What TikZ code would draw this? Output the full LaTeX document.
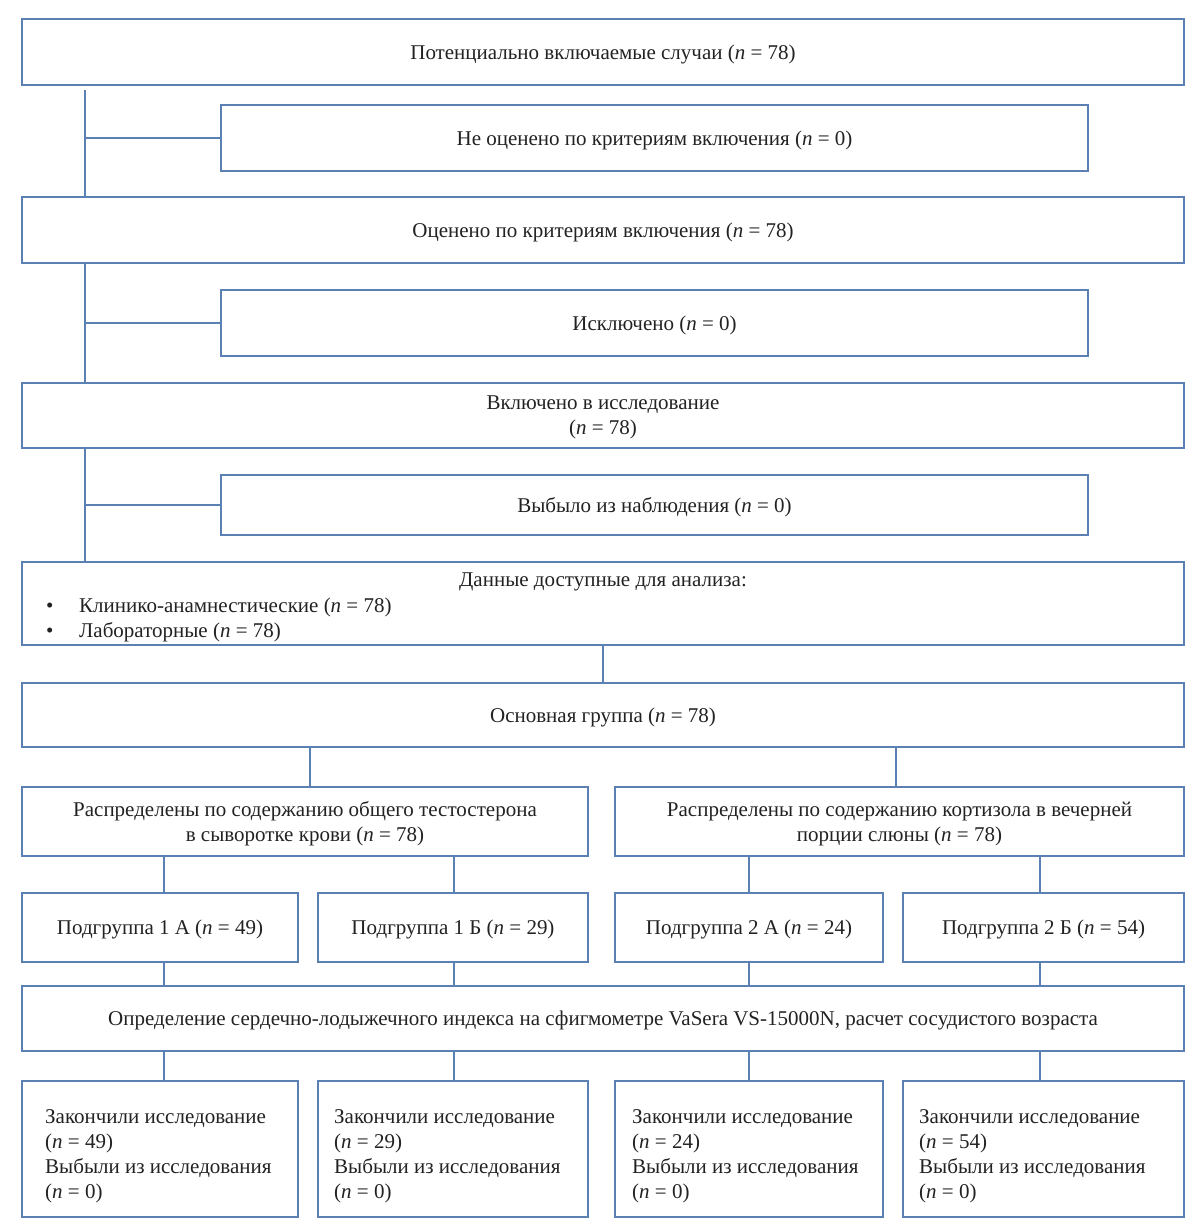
\documentclass[tikz,border=0pt]{standalone}
\usepackage{fontspec}
\setmainfont{Liberation Serif}
\definecolor{bc}{HTML}{5B80B4}
\definecolor{tc}{HTML}{222222}
\begin{document}
\begin{tikzpicture}[x=1pt,y=1pt,
  box/.style={draw=bc, line width=1.8pt, inner sep=0pt, align=center, text=tc, text depth=0pt, font=\fontsize{21}{25}\selectfont},
  txt/.style={inner sep=0pt, text=tc, text depth=0pt, font=\fontsize{21}{25}\selectfont},
  conn/.style={draw=bc, line width=1.8pt}]
\useasboundingbox (0,0) rectangle (1200,-1226);
% boxes
\node[box, minimum width=1162, minimum height=66] (b1) at (603,-52) {Потенциально включаемые случаи (\textit{n} = 78)};
\node[box, minimum width=867, minimum height=66] (b2) at (654.5,-138) {Не оценено по критериям включения (\textit{n} = 0)};
\node[box, minimum width=1162, minimum height=66] (b3) at (603,-230) {Оценено по критериям включения (\textit{n} = 78)};
\node[box, minimum width=867, minimum height=66] (b4) at (654.5,-323) {Исключено (\textit{n} = 0)};
\node[box, minimum width=1162, minimum height=65] (b5) at (603,-415.5) {Включено в исследование\\(\textit{n} = 78)};
\node[box, minimum width=867, minimum height=60] (b6) at (654.5,-505) {Выбыло из наблюдения (\textit{n} = 0)};
\node[box, minimum width=1162, minimum height=83] (b7) at (603,-603.5) {};
\node[txt] (b7t) at (603,-580) {Данные доступные для анализа:};
\node[txt, anchor=base west] (b7d1) at (46,-612) {•};
\node[txt, anchor=base west] (b7d2) at (46,-637) {•};
\node[txt, anchor=base west] (b7l1) at (79,-612) {Клинико-анамнестические (\textit{n} = 78)};
\node[txt, anchor=base west] (b7l2) at (79,-637) {Лабораторные (\textit{n} = 78)};
\node[box, minimum width=1162, minimum height=64] (b8) at (603,-715) {Основная группа (\textit{n} = 78)};
\node[box, minimum width=566, minimum height=69] (b9a) at (305,-821.5) {Распределены по содержанию общего тестостерона\\в сыворотке крови (\textit{n} = 78)};
\node[box, minimum width=569, minimum height=69] (b9b) at (899.5,-821.5) {Распределены по содержанию кортизола в вечерней\\порции слюны (\textit{n} = 78)};
\node[box, minimum width=276, minimum height=69] (s1) at (160,-927.5) {Подгруппа 1 А (\textit{n} = 49)};
\node[box, minimum width=270, minimum height=69] (s2) at (453,-927.5) {Подгруппа 1 Б (\textit{n} = 29)};
\node[box, minimum width=268, minimum height=69] (s3) at (749,-927.5) {Подгруппа 2 А (\textit{n} = 24)};
\node[box, minimum width=281, minimum height=69] (s4) at (1043.5,-927.5) {Подгруппа 2 Б (\textit{n} = 54)};
\node[box, minimum width=1162, minimum height=65] (b11) at (603,-1018.5) {Определение сердечно-лодыжечного индекса на сфигмометре VaSera VS-15000N, расчет сосудистого возраста};
\node[box, minimum width=276, minimum height=136] (e1) at (160,-1149) {};
\node[box, minimum width=270, minimum height=136] (e2) at (453,-1149) {};
\node[box, minimum width=268, minimum height=136] (e3) at (749,-1149) {};
\node[box, minimum width=281, minimum height=136] (e4) at (1043.5,-1149) {};
\node[txt, anchor=west, align=left] (e1t) at (45,-1154) {Закончили исследование\\(\textit{n} = 49)\\Выбыли из исследования\\(\textit{n} = 0)};
\node[txt, anchor=west, align=left] (e2t) at (334,-1154) {Закончили исследование\\(\textit{n} = 29)\\Выбыли из исследования\\(\textit{n} = 0)};
\node[txt, anchor=west, align=left] (e3t) at (632,-1154) {Закончили исследование\\(\textit{n} = 24)\\Выбыли из исследования\\(\textit{n} = 0)};
\node[txt, anchor=west, align=left] (e4t) at (919,-1154) {Закончили исследование\\(\textit{n} = 54)\\Выбыли из исследования\\(\textit{n} = 0)};
% coordinates
\coordinate (sp) at (85,0);
\coordinate (cm) at (603,0);
\coordinate (ca) at (310,0);
\coordinate (cb) at (896,0);
\coordinate (x1) at (164,0);
\coordinate (x2) at (454,0);
\coordinate (x3) at (749,0);
\coordinate (x4) at (1040,0);
% connectors
\draw[conn] ([yshift=-4]b1.south -| sp) -- (b3.north -| sp);
\draw[conn] (b2.west) -- (b2.west -| sp);
\draw[conn] (b3.south -| sp) -- (b5.north -| sp);
\draw[conn] (b4.west) -- (b4.west -| sp);
\draw[conn] (b5.south -| sp) -- (b7.north -| sp);
\draw[conn] (b6.west) -- (b6.west -| sp);
\draw[conn] (b7.south -| cm) -- (b8.north -| cm);
\draw[conn] (b8.south -| ca) -- (b9a.north -| ca);
\draw[conn] (b8.south -| cb) -- (b9b.north -| cb);
\draw[conn] (b9a.south -| x1) -- (s1.north -| x1);
\draw[conn] (b9a.south -| x2) -- (s2.north -| x2);
\draw[conn] (b9b.south -| x3) -- (s3.north -| x3);
\draw[conn] (b9b.south -| x4) -- (s4.north -| x4);
\draw[conn] (s1.south -| x1) -- (b11.north -| x1);
\draw[conn] (s2.south -| x2) -- (b11.north -| x2);
\draw[conn] (s3.south -| x3) -- (b11.north -| x3);
\draw[conn] (s4.south -| x4) -- (b11.north -| x4);
\draw[conn] (b11.south -| x1) -- (e1.north -| x1);
\draw[conn] (b11.south -| x2) -- (e2.north -| x2);
\draw[conn] (b11.south -| x3) -- (e3.north -| x3);
\draw[conn] (b11.south -| x4) -- (e4.north -| x4);
\end{tikzpicture}
\end{document}
